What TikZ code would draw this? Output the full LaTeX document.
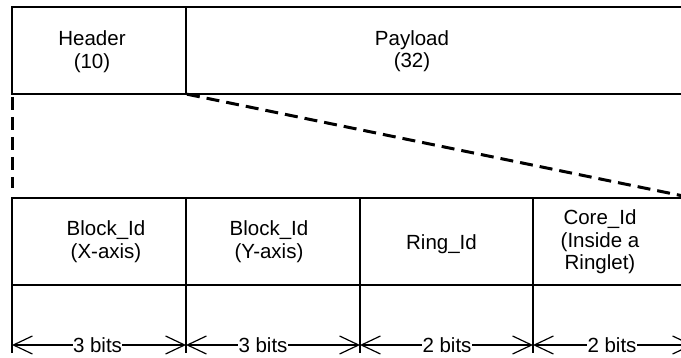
\documentclass[tikz,border=0pt]{standalone}
\usepackage{fontspec}
\setmainfont{Liberation Sans}
\usetikzlibrary{arrows.meta}
\newcommand{\lbfont}{\fontsize{20.5}{22.5}\selectfont}
\tikzset{cell/.style={draw, line width=1.4pt, minimum height=87pt, inner sep=0pt, outer sep=0pt, anchor=north west},
         lbl/.style={align=center, anchor=base, font=\lbfont, inner sep=0pt},
         bits/.style={fill=white, inner sep=0.5pt, anchor=base, font=\lbfont},
         zoomline/.style={line width=3pt, dash pattern=on 13pt off 7pt}}

\begin{document}
\begin{tikzpicture}[x=1pt,y=-1pt, >={Straight Barb[length=19pt,width=18pt]}]
\useasboundingbox (0,0) rectangle (681,358);
\clip (0,0) rectangle (681,358);
\node[cell, minimum width=174pt] (hdr) at (12,7) {};
\node[cell, minimum width=507pt] (pay) at (186,7) {};
\node[lbl] (hdrtxt) at (92,68.5) {Header\\(10)};
\node[lbl] (paytxt) at (412,68) {Payload\\(32)};
% expanded payload
\node[cell, minimum width=174pt] (blkx) at (12,198) {};
\node[cell, minimum width=174pt] (blky) at (186,198) {};
\node[cell, minimum width=173pt] (ring) at (360,198) {};
\node[cell, minimum width=160pt] (core) at (533,198) {};
\node[lbl] (blkxtxt) at (106,258.5) {Block\_Id\\(X-axis)};
\node[lbl] (blkytxt) at (269,258.5) {Block\_Id\\(Y-axis)};
\node[lbl] (ringtxt) at (441.5,250) {Ring\_Id};
\node[lbl] (coretxt) at (600,270) {Core\_Id\\(Inside a\\Ringlet)};
\draw[zoomline, shorten <=3pt, shorten >=10pt] (hdr.south west) -- (blkx.north west);
\draw[zoomline, shorten <=1pt] (hdr.south east) -- (core.north east);
\foreach \x/\n in {12/0,186/1,360/2,533/3,693/4}{
  \coordinate (t\n) at (\x,285);
  \coordinate (e\n) at (\x,353);
  \coordinate (a\n) at (\x,345);
  \draw[line width=1.4pt] (t\n) -- (e\n);
}
\foreach \i/\j in {0/1,1/2,2/3,3/4}
  \draw[<->, line width=1.2pt] (a\i) -- (a\j);
\node[bits] (bx) at (97.5,352.5) {3 bits};
\node[bits] (by) at (263,352.5) {3 bits};
\node[bits] (br) at (447,352.5) {2 bits};
\node[bits] (bc) at (612,352.5) {2 bits};
\end{tikzpicture}
\end{document}
